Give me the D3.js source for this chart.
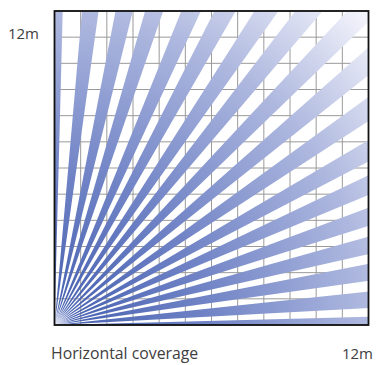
<!DOCTYPE html>
<html>
<head>
<meta charset="utf-8">
<script src="https://cdn.jsdelivr.net/npm/d3@7"></script>
<style>
  body { margin: 0; background: #fff; }
  text { font-family: "Open Sans", sans-serif; fill: #404040; }
</style>
</head>
<body>
<div id="chart"></div>
<script>
// coverage extent in metres
var extentM = [0, 12];
var gridSteps = d3.range(0, 13);
// beam directions, degrees above the horizontal
var beamAngles = [90, 83.5, 77.5, 72.4, 66.5, 61.5, 56, 51, 45.5, 40, 34.5, 29, 24, 19, 14.2, 9.5, 4.6, 0];
var yLabel = "12m";
var xLabel = "Horizontal coverage";
var xEndLabel = "12m";

var width = 377, height = 365;
var plotLeft = 54.5, plotTop = 11, size = 314;

var svg = d3.select("#chart").append("svg")
    .attr("width", width)
    .attr("height", height);

var x = d3.scaleLinear().domain(extentM).range([plotLeft, plotLeft + size]);
var y = d3.scaleLinear().domain(extentM).range([plotTop + size, plotTop]);
// degrees above horizontal -> d3.arc angle (0 = up, clockwise)
var ang = d3.scaleLinear().domain([0, 90]).range([Math.PI / 2, 0]);

var defs = svg.append("defs");
defs.append("clipPath").attr("id", "plotclip")
  .append("rect")
    .attr("x", x(0)).attr("y", y(12))
    .attr("width", x(12) - x(0)).attr("height", y(0) - y(12));

var grad = defs.append("radialGradient")
    .attr("id", "beamgrad")
    .attr("gradientUnits", "userSpaceOnUse")
    .attr("cx", 0).attr("cy", 0).attr("r", size * Math.SQRT2);
[[0, "#c3cbea"], [0.04, "#4862b2"], [0.35, "#7184c6"], [0.7, "#aeb8df"], [1, "#f6f6fc"]]
  .forEach(function(s) {
    grad.append("stop").attr("offset", s[0]).attr("stop-color", s[1]);
  });

// grid
svg.append("g").selectAll("line")
    .data(gridSteps)
  .enter().append("line")
    .attr("x1", function(d) { return x(d); }).attr("x2", function(d) { return x(d); })
    .attr("y1", y(0)).attr("y2", y(12))
    .attr("stroke", "#9a9a9a").attr("stroke-width", 1);
svg.append("g").selectAll("line")
    .data(gridSteps)
  .enter().append("line")
    .attr("y1", function(d) { return y(d); }).attr("y2", function(d) { return y(d); })
    .attr("x1", x(0)).attr("x2", x(12))
    .attr("stroke", "#9a9a9a").attr("stroke-width", 1);

// beams
var halfW = 1.5 * Math.PI / 180;
var arc = d3.arc()
    .innerRadius(0)
    .outerRadius(size * 1.5)
    .startAngle(function(d) { return ang(d) - halfW; })
    .endAngle(function(d) { return ang(d) + halfW; });

svg.append("g")
    .attr("clip-path", "url(#plotclip)")
  .append("g")
    .attr("transform", "translate(" + x(0) + "," + y(0) + ")")
  .selectAll("path")
    .data(beamAngles)
  .enter().append("path")
    .attr("d", arc)
    .attr("fill", "url(#beamgrad)");

// frame
svg.append("rect")
    .attr("x", x(0)).attr("y", y(12))
    .attr("width", x(12) - x(0)).attr("height", y(0) - y(12))
    .attr("fill", "none").attr("stroke", "#111").attr("stroke-width", 1.8);

svg.append("text").attr("x", 39).attr("y", 39)
    .attr("text-anchor", "end").style("font-size", "15px").text(yLabel);
svg.append("text").attr("x", 51).attr("y", 359)
    .style("font-size", "15.8px").text(xLabel);
svg.append("text").attr("x", 373).attr("y", 359)
    .attr("text-anchor", "end").style("font-size", "15px").text(xEndLabel);
</script>
</body>
</html>
